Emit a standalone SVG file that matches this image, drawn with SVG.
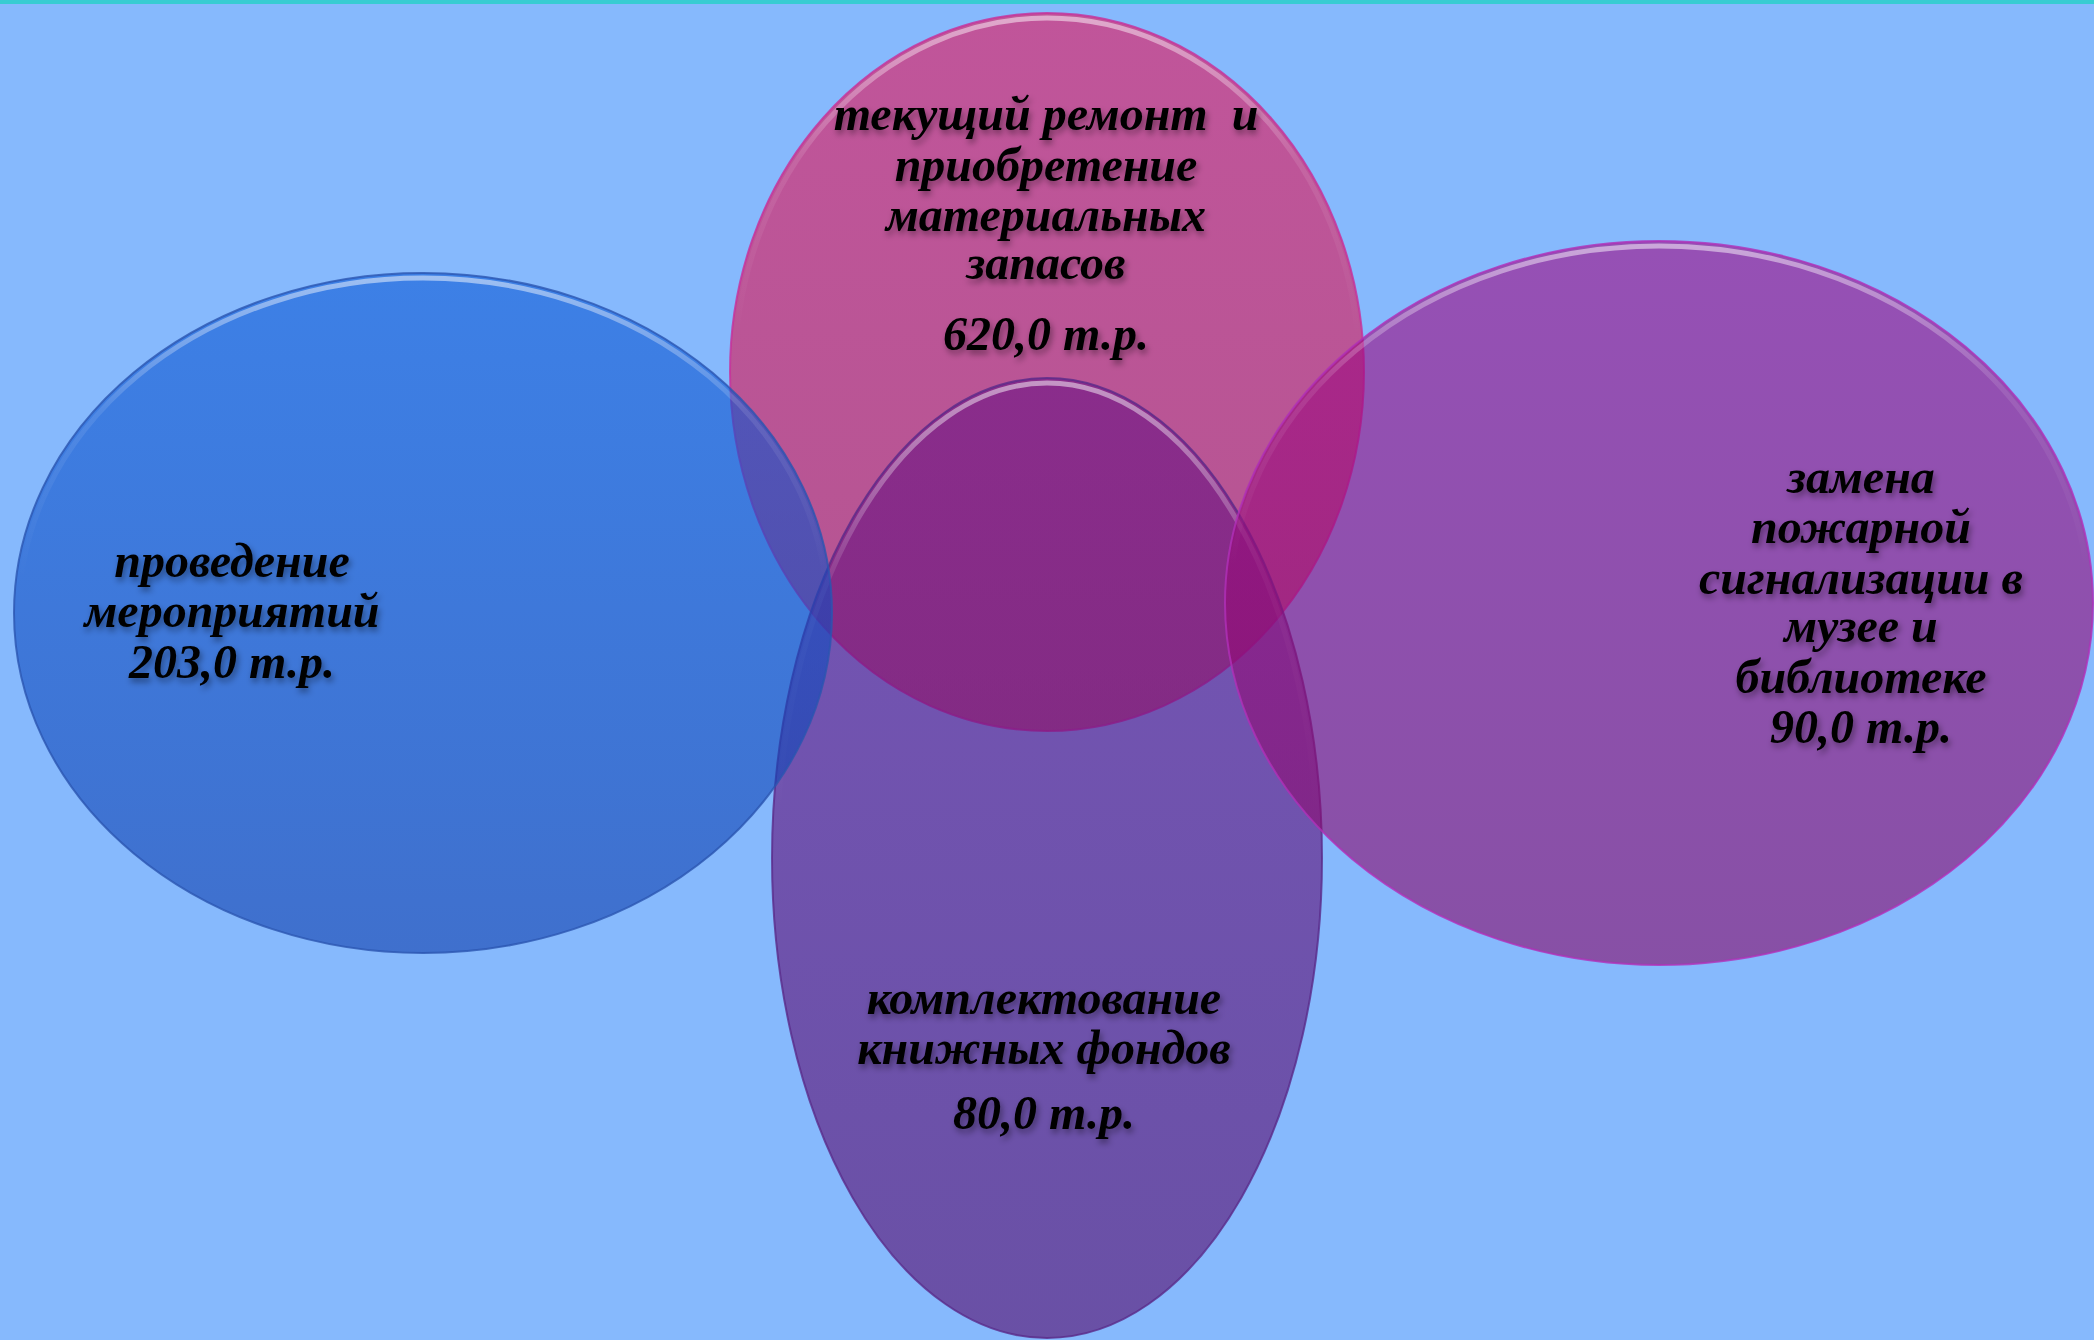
<svg xmlns="http://www.w3.org/2000/svg" width="2094" height="1340" viewBox="0 0 2094 1340">
<defs>
<linearGradient id="gBlue" x1="0" y1="0" x2="0" y2="1"><stop offset="0" stop-color="#0C5AD7"/><stop offset="1" stop-color="#103FAD"/></linearGradient>
<linearGradient id="gPink" x1="0" y1="0" x2="0" y2="1"><stop offset="0" stop-color="#E81258"/><stop offset="1" stop-color="#D21249"/></linearGradient>
<linearGradient id="gRight" x1="0" y1="0" x2="0" y2="1"><stop offset="0" stop-color="#A10A85"/><stop offset="1" stop-color="#880A6B"/></linearGradient>
<linearGradient id="gBottom" x1="0" y1="0" x2="0" y2="1"><stop offset="0" stop-color="#6A1285"/><stop offset="1" stop-color="#560A6B"/></linearGradient>
<linearGradient id="hl" x1="0" y1="0" x2="0" y2="1"><stop offset="0" stop-color="#ffffff" stop-opacity="0.5"/><stop offset="0.2" stop-color="#ffffff" stop-opacity="0.1"/><stop offset="0.45" stop-color="#ffffff" stop-opacity="0"/></linearGradient>
<filter id="ts" x="-10%" y="-30%" width="120%" height="160%"><feDropShadow dx="2" dy="4" stdDeviation="3" flood-color="#000" flood-opacity="0.4"/></filter>
</defs>
<style>
.el{fill-opacity:0.6;stroke-width:2}
.hl{fill:none;stroke:url(#hl);stroke-width:5}
.t{font-family:"Liberation Serif","Times New Roman",serif;font-weight:bold;font-style:italic;font-size:48px;fill:#000;text-anchor:middle;filter:url(#ts);white-space:pre}
</style>
<rect width="2094" height="1340" fill="#86B9FD"/>
<rect width="2094" height="4" fill="#38CCD2"/>
<g id="node-pink">
<ellipse class="el" cx="1047" cy="372" rx="317" ry="359" fill="url(#gPink)" stroke="#C8309A" stroke-opacity="0.8"/>
<ellipse class="hl" cx="1047" cy="372" rx="312" ry="354"/>
</g>
<g id="node-bottom">
<ellipse class="el" cx="1047" cy="858" rx="275" ry="480" fill="url(#gBottom)" stroke="#5A2A8A" stroke-opacity="0.8"/>
<ellipse class="hl" cx="1047" cy="858" rx="270" ry="475"/>
</g>
<g id="node-right">
<ellipse class="el" cx="1659" cy="603" rx="434" ry="362" fill="url(#gRight)" stroke="#B030B8" stroke-opacity="0.8"/>
<ellipse class="hl" cx="1659" cy="603" rx="429" ry="357"/>
</g>
<g id="node-blue">
<ellipse class="el" cx="423" cy="613" rx="409" ry="340" fill="url(#gBlue)" stroke="#2A55B0" stroke-opacity="0.8"/>
<ellipse class="hl" cx="423" cy="613" rx="404" ry="335"/>
</g>
<g id="connectors"/>
<g id="labels">
<text class="t" x="1046" y="130" xml:space="preserve">текущий ремонт  и</text>
<text class="t" x="1046" y="181">приобретение</text>
<text class="t" x="1046" y="231">материальных</text>
<text class="t" x="1046" y="279">запасов</text>
<text class="t" x="1046" y="350">620,0 т.р.</text>
<text class="t" x="232" y="577">проведение</text>
<text class="t" x="232" y="627">мероприятий</text>
<text class="t" x="232" y="678">203,0 т.р.</text>
<text class="t" x="1861" y="493">замена</text>
<text class="t" x="1861" y="543">пожарной</text>
<text class="t" x="1861" y="594">сигнализации в</text>
<text class="t" x="1861" y="642">музее и</text>
<text class="t" x="1861" y="693">библиотеке</text>
<text class="t" x="1861" y="743">90,0 т.р.</text>
<text class="t" x="1044" y="1014">комплектование</text>
<text class="t" x="1044" y="1064">книжных фондов</text>
<text class="t" x="1044" y="1129">80,0 т.р.</text>
</g>
</svg>
